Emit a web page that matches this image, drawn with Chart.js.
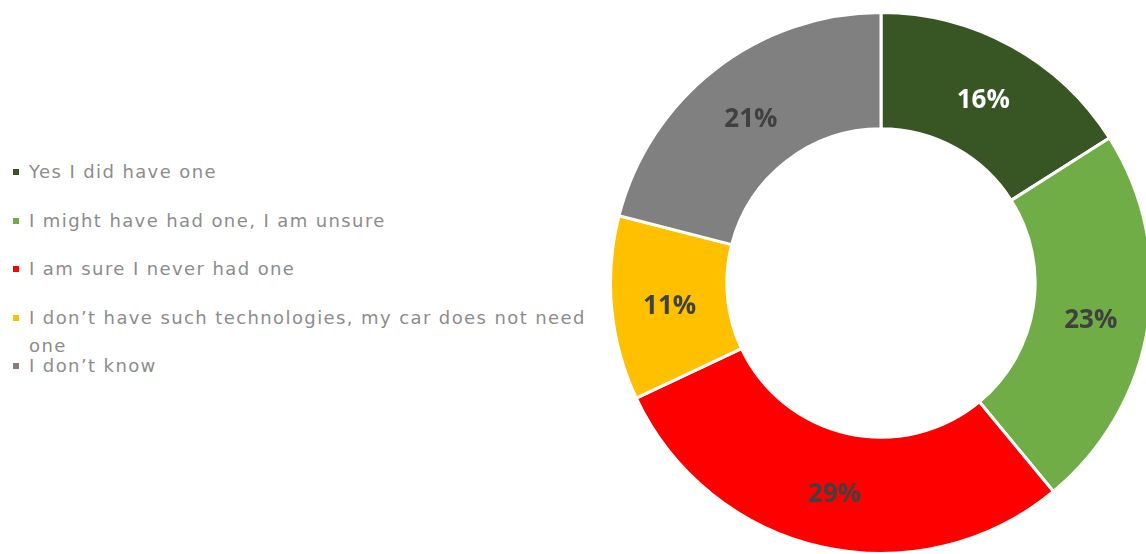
<!DOCTYPE html>
<html>
<head>
<meta charset="utf-8">
<script src="https://cdn.jsdelivr.net/npm/chart.js@4"></script>
<style>
  html, body { margin: 0; padding: 0; width: 1146px; height: 554px; overflow: hidden; background: #fff; }
  #legend { position: absolute; left: 0; top: 0; }
  .item { position: absolute; left: 13px; width: 582px; font-family: "DejaVu Sans", sans-serif; font-weight: 400;
          font-size: 18px; letter-spacing: 1.4px; line-height: 28px; color: #8c8c8c; }
  .box { position: absolute; left: 0; top: 11px; width: 6px; height: 6px; }
  .txt { margin-left: 16px; }
  #wrap { position: absolute; left: 609px; top: 11px; width: 544px; height: 544px; }
</style>
</head>
<body>
<div id="legend"></div>
<div id="wrap"><canvas id="donut" width="544" height="544"></canvas></div>
<script>
const categories = [
    'Yes I did have one',
    'I might have had one, I am unsure',
    'I am sure I never had one',
    'I don\u2019t have such technologies, my car does not need one',
    'I don\u2019t know'
];
const shares = [16, 23, 29, 11, 21];
const colors = ['#375623', '#70ad47', '#ff0000', '#ffc000', '#808080'];
const labelColors = ['#ffffff', '#404040', '#404040', '#404040', '#404040'];

// legend on the left, like the Excel one
const legend = document.getElementById('legend');
categories.forEach((name, i) => {
    const row = document.createElement('div');
    row.className = 'item';
    row.style.top = (158 + i * 48.5) + 'px';
    row.innerHTML = '<span class="box" style="background:' + colors[i] + '"></span><div class="txt">' + name + '</div>';
    legend.appendChild(row);
});

const pctLabels = {
    id: 'pctLabels',
    afterDatasetsDraw(chart) {
        const ctx = chart.ctx;
        const meta = chart.getDatasetMeta(0);
        ctx.save();
        ctx.font = 'bold 26px "Open Sans", sans-serif';
        ctx.textAlign = 'center';
        ctx.textBaseline = 'middle';
        meta.data.forEach((arc, i) => {
            const p = arc.tooltipPosition();
            ctx.fillStyle = labelColors[i];
            ctx.fillText(shares[i] + '%', p.x, p.y + 4);
        });
        ctx.restore();
    }
};

const ctx = document.getElementById('donut').getContext('2d');
new Chart(ctx, {
    type: 'doughnut',
    data: {
        labels: categories,
        datasets: [{
            data: shares,
            backgroundColor: colors,
            borderColor: '#ffffff',
            borderWidth: 3
        }]
    },
    options: {
        responsive: false,
        animation: false,
        cutout: '57%',
        layout: { padding: 0 },
        plugins: {
            legend: { display: false },
            tooltip: { enabled: false }
        }
    },
    plugins: [pctLabels]
});
</script>
</body>
</html>
